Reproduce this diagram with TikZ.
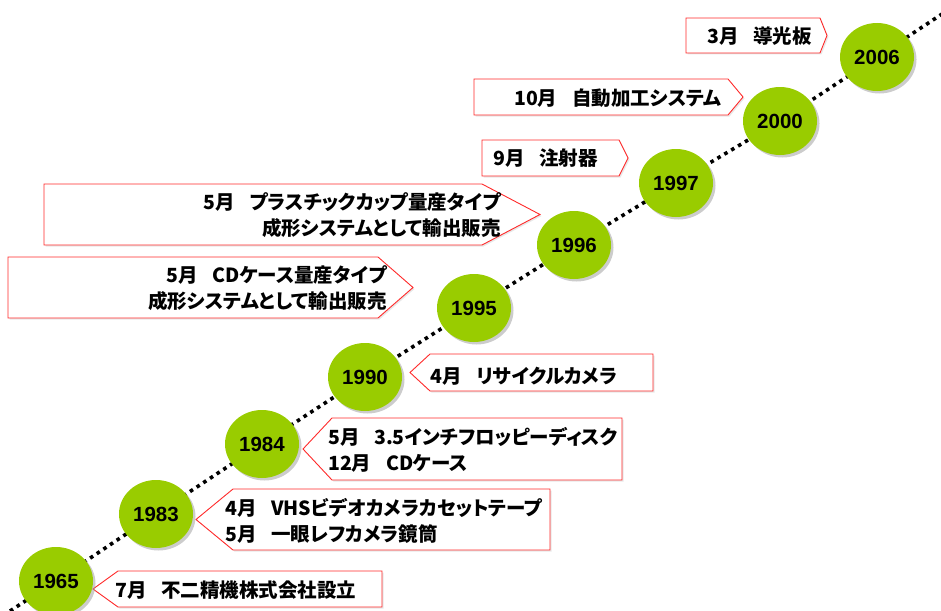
\documentclass[tikz,border=0pt]{standalone}
\usepackage{fontspec}
\newfontfamily\jp{Noto Sans CJK JP}[RawFeature=+palt]
\newfontfamily\yrfont{Liberation Sans}
\usetikzlibrary{shapes.geometric,shadows,backgrounds}
\definecolor{yrgreen}{HTML}{99CC00}
\definecolor{boxred}{HTML}{FF2A2A}
\tikzset{
  yearnode/.style={ellipse, minimum width=74pt, minimum height=68pt, inner sep=0pt,
    fill=yrgreen, drop shadow={shadow xshift=2.5pt, shadow yshift=-2.5pt, fill=black!40},
    font=\yrfont\bfseries\fontsize{20.5}{24}\selectfont},
  calloutbox/.style={draw=boxred, line width=0.9pt, fill=white,
    drop shadow={shadow xshift=1.5pt, shadow yshift=-1.5pt, fill=black!18}},
  eventtext/.style={font=\jp\bfseries\fontsize{19.5}{26}\selectfont, inner sep=0pt},
  timeline/.style={line width=3.6pt, dash pattern=on 3.6pt off 4.4pt, black}
}
\newcommand\gapm{\hspace{0.75em}}
\begin{document}
\begin{tikzpicture}[x=1pt,y=-1pt]
\useasboundingbox (0,0) rectangle (941,610);

% callout shapes (right pointing)
\path[calloutbox] (686,18) -- (820,18) -- (827,35.5) -- (820,53) -- (686,53) -- cycle;
\path[calloutbox] (474,79) -- (728,79) -- (743,97) -- (728,115) -- (474,115) -- cycle;
\path[calloutbox] (482,140) -- (619,140) -- (628,158) -- (619,176) -- (482,176) -- cycle;
\path[calloutbox] (44,184) -- (482,184) -- (540,214.5) -- (482,245) -- (44,245) -- cycle;
\path[calloutbox] (8,257) -- (378,257) -- (413,287.5) -- (378,318) -- (8,318) -- cycle;
% callout shapes (left pointing)
\path[calloutbox] (410,372.5) -- (430,354) -- (653,354) -- (653,391) -- (430,391) -- cycle;
\path[calloutbox] (303,449) -- (332,418) -- (622,418) -- (622,480) -- (332,480) -- cycle;
\path[calloutbox] (196,519.5) -- (233,489) -- (550,489) -- (550,550) -- (233,550) -- cycle;
\path[calloutbox] (93,589) -- (118,571) -- (382,571) -- (382,607) -- (118,607) -- cycle;

% texts
\node[eventtext, anchor=east] (t2006) at (812,36) {3月\gapm 導光板};
\node[eventtext, anchor=east] (t2000) at (722,98) {10月\gapm 自動加工システム};
\node[eventtext, anchor=west] (t1997) at (493,158) {9月\gapm 注射器};
\node[eventtext, anchor=east, align=right] (t1996) at (501,215) {5月\gapm プラスチックカップ量産タイプ\\成形システムとして輸出販売};
\node[eventtext, anchor=east, align=right] (t1995) at (387,288) {5月\gapm CDケース量産タイプ\\成形システムとして輸出販売};
\node[eventtext, anchor=west] (t1990) at (430,376) {4月\gapm リサイクルカメラ};
\node[eventtext, anchor=west, align=left] (t1984) at (328,450) {5月\gapm 3.5インチフロッピーディスク\\12月\gapm CDケース};
\node[eventtext, anchor=west, align=left] (t1983) at (225,521) {4月\gapm VHSビデオカメラカセットテープ\\5月\gapm 一眼レフカメラ鏡筒};
\node[eventtext, anchor=west] (t1965) at (115,590) {7月\gapm 不二精機株式会社設立};

% year circles
\node[yearnode] (c2006) at (877,57) {2006};
\node[yearnode] (c2000) at (780,121) {2000};
\node[yearnode] (c1997) at (676,183) {1997};
\node[yearnode] (c1996) at (574,245) {1996};
\node[yearnode] (c1995) at (474,308) {1995};
\node[yearnode] (c1990) at (365,377) {1990};
\node[yearnode] (c1984) at (262,444) {1984};
\node[yearnode] (c1983) at (156,514) {1983};
\node[yearnode] (c1965) at (56,581) {1965};

\coordinate (lstart) at (10,611);
\coordinate (lend) at (942,14);

\begin{scope}[on background layer]
\draw[timeline] (lstart) -- (c1965.center) -- (c1983.center) -- (c1984.center) -- (c1990.center)
  -- (c1995.center) -- (c1996.center) -- (c1997.center) -- (c2000.center) -- (c2006.center) -- (lend);
\end{scope}
\end{tikzpicture}
\end{document}
